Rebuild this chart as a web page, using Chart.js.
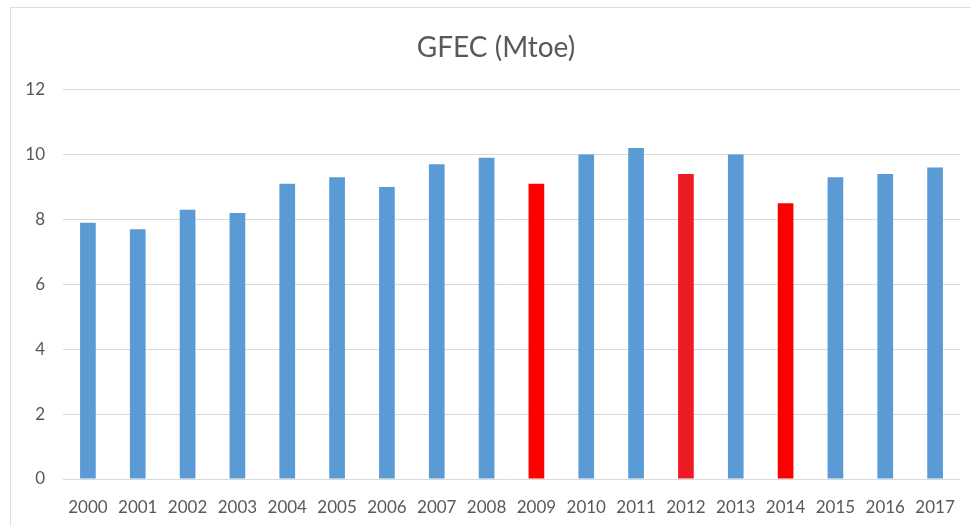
<!DOCTYPE html>
<html>
<head>
<meta charset="utf-8">
<script src="https://cdn.jsdelivr.net/npm/chart.js@4"></script>
<style>
  html, body { margin: 0; padding: 0; background: #fff; }
  #frame {
    position: absolute; left: 10px; top: 7px; width: 980px; height: 540px;
    border: 1px solid #dedede; box-sizing: border-box;
  }
  #wrap { position: absolute; left: 0; top: 0; width: 971px; height: 526px; }
</style>
</head>
<body>
<div id="frame"></div>
<div id="wrap"><canvas id="gfec-chart" width="971" height="526"></canvas></div>
<script>
/* ===================================
   DATA
   =================================== */
const years = ["2000", "2001", "2002", "2003", "2004", "2005", "2006", "2007", "2008",
               "2009", "2010", "2011", "2012", "2013", "2014", "2015", "2016", "2017"];
const gfecValues = [7.9, 7.7, 8.3, 8.2, 9.1, 9.3, 9.0, 9.7, 9.9,
                    9.1, 10.0, 10.2, 9.4, 10.0, 8.5, 9.3, 9.4, 9.6];
const barColors = ["#5B9BD5", "#5B9BD5", "#5B9BD5", "#5B9BD5", "#5B9BD5", "#5B9BD5",
                   "#5B9BD5", "#5B9BD5", "#5B9BD5", "#FF0000", "#5B9BD5", "#5B9BD5",
                   "#ED1C24", "#5B9BD5", "#FF0000", "#5B9BD5", "#5B9BD5", "#5B9BD5"];
const yTicks = [0, 2, 4, 6, 8, 10, 12];

const textColor = "#595959";
const gridColor = "#d9d9d9";

// title sits centred on the whole frame, not on the padded box
const shiftTitle = {
  id: "shiftTitle",
  afterLayout(chart) {
    if (chart.titleBlock) chart.titleBlock.left += 11;
  },
};

/**
 * Render GFEC bar chart
 */
function renderGfecChart() {
  const ctx = document.getElementById("gfec-chart").getContext("2d");

  new Chart(ctx, {
    type: "bar",
    data: {
      labels: years,
      datasets: [{
        label: "GFEC (Mtoe)",
        data: gfecValues,
        backgroundColor: barColors,
        borderWidth: 0,
        categoryPercentage: 1,
        barPercentage: 0.315,
      }],
    },
    plugins: [shiftTitle],
    options: {
      responsive: false,
      animation: false,
      layout: { padding: { left: 21, right: 11, top: 0, bottom: 0 } },
      plugins: {
        legend: { display: false },
        tooltip: { enabled: false },
        title: {
          display: true,
          text: "GFEC (Mtoe)",
          color: textColor,
          font: { family: "Lato", size: 28, weight: "normal" },
          padding: { top: 31, bottom: 25 },
        },
      },
      scales: {
        x: {
          afterFit: (axis) => { axis.height = 47; },
          grid: { display: false },
          border: { display: false },
          ticks: {
            color: textColor,
            font: { family: "Lato", size: 17 },
            padding: 10,
            maxRotation: 0,
            autoSkip: false,
          },
        },
        y: {
          min: 0,
          max: 12,
          afterBuildTicks: (axis) => { axis.ticks = yTicks.map(v => ({ value: v })); },
          afterFit: (axis) => { axis.width = 42; },
          grid: { color: gridColor, lineWidth: 1, drawTicks: false },
          border: { display: false },
          ticks: {
            color: textColor,
            font: { family: "Lato", size: 17 },
            padding: 18,
          },
        },
      },
    },
  });
}

renderGfecChart();
</script>
</body>
</html>
